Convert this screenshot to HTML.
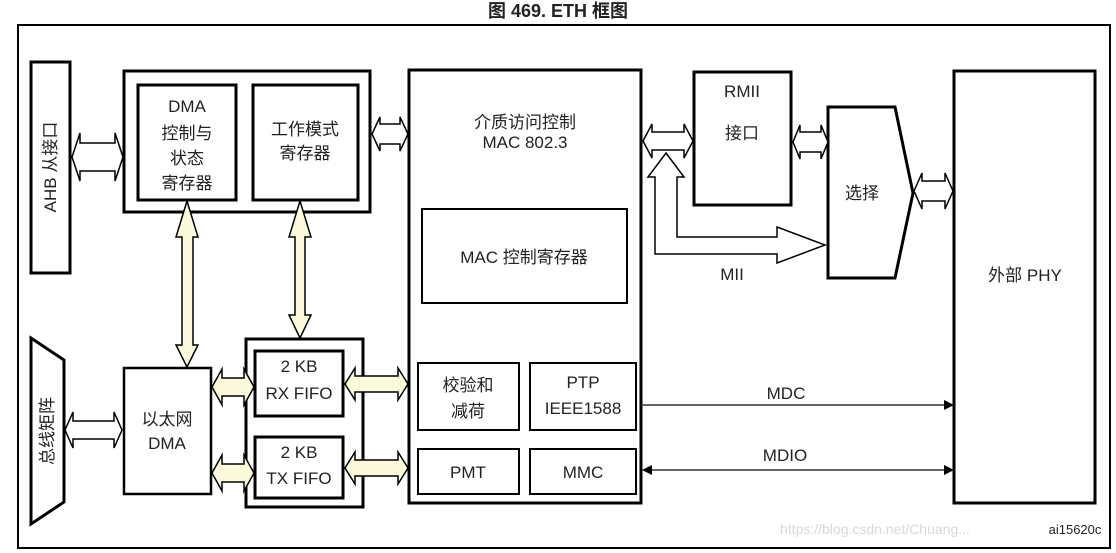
<!DOCTYPE html>
<html><head><meta charset="utf-8"><style>
html,body{margin:0;padding:0;background:#fff;width:1116px;height:553px;overflow:hidden}
svg text{font-family:"Liberation Sans","Noto Sans CJK SC",sans-serif;fill:#222}
</style></head><body>
<svg width="1116" height="553" viewBox="0 0 1116 553" xmlns="http://www.w3.org/2000/svg">
<text x="558" y="17" font-size="18" font-weight="bold" text-anchor="middle">图 469. ETH 框图</text>
<rect x="18" y="25" width="1092" height="523" fill="none" stroke="#000" stroke-width="2"/>
<g fill="none" stroke="#000" stroke-width="3">
<rect x="31" y="62" width="39" height="211"/>
<rect x="124" y="71" width="246" height="141"/>
<rect x="138" y="85" width="98" height="115"/>
<rect x="253" y="85" width="105" height="115"/>
<rect x="409" y="70" width="232" height="433"/>
<rect x="694" y="72" width="97" height="133"/>
<rect x="954" y="71" width="141" height="432"/>
<rect x="246" y="339" width="117" height="168"/>
<rect x="255" y="351" width="88" height="65"/>
<rect x="255" y="437" width="88" height="61"/>
<polygon points="828,107 895,107 913,193 895,278 828,278"/>
<polygon points="31,338 64,360 64,502 31,524"/>
</g>
<g fill="none" stroke="#000" stroke-width="2.5">
<rect x="124" y="368" width="87" height="126"/>
</g>
<g fill="none" stroke="#000" stroke-width="2">
<rect x="422" y="209" width="205" height="94"/>
<rect x="418" y="363" width="101" height="67"/>
<rect x="530" y="363" width="106" height="67"/>
<rect x="418" y="449" width="101" height="45"/>
<rect x="530" y="449" width="106" height="45"/>
</g>
<g fill="#fff" stroke="#000" stroke-width="1.5">
<polygon points="72,157 80,133 80,143 115,143 115,133 123,157 115,181 115,171 80,171 80,181"/>
<polygon points="372,134 380,117 380,124 400,124 400,117 408,134 400,151 400,144 380,144 380,151"/>
<polygon points="666,153 684,177 677,177 677,237 777,237 777,227 825,245 777,263 777,254 655,254 655,177 648,177"/>
<polygon points="643,141 652,124 652,132 684,132 684,124 693,141 684,158 684,150 652,150 652,158"/>
<polygon points="793,142 800,125 800,132 821,132 821,125 828,142 821,159 821,152 800,152 800,159"/>
<polygon points="914,191 922,173 922,181 945,181 945,173 953,191 945,209 945,201 922,201 922,209"/>
<polygon points="65,430 73,412 73,421 114,421 114,412 122,430 114,448 114,439 73,439 73,448"/>
</g>
<g fill="#fbfbdc" stroke="#000" stroke-width="1.5">
<polygon points="187,201 198,237 193,237 193,345 198,345 187,367 176,345 182,345 182,237 176,237"/>
<polygon points="300,201 311,237 305,237 305,315 311,315 300,338 289,315 295,315 295,237 289,237"/>
<polygon points="212,387 222,369 222,378 244,378 244,369 254,387 244,405 244,396 222,396 222,405"/>
<polygon points="212,473 222,455 222,464 244,464 244,455 254,473 244,491 244,482 222,482 222,491"/>
<polygon points="345,384 355,368 355,376 398,376 398,368 408,384 398,400 398,392 355,392 355,400"/>
<polygon points="345,468 355,452 355,460 398,460 398,452 408,468 398,484 398,476 355,476 355,484"/>
</g>
<g stroke="#333" stroke-width="1.5">
<line x1="641" y1="405" x2="945" y2="405"/>
<line x1="650" y1="470" x2="945" y2="470"/>
</g>
<polygon points="954,405 944,400 944,410" fill="#000"/>
<polygon points="954,470 944,465 944,475" fill="#000"/>
<polygon points="642,470 652,465 652,475" fill="#000"/>
<g font-size="17" text-anchor="middle">
<text x="56" y="167" transform="rotate(-90 56 167)">AHB 从接口</text>
<text x="187" y="112">DMA</text>
<text x="187" y="139">控制与</text>
<text x="187" y="164">状态</text>
<text x="187" y="189">寄存器</text>
<text x="305" y="135">工作模式</text>
<text x="305" y="159">寄存器</text>
<text x="525" y="128">介质访问控制</text>
<text x="525" y="148">MAC 802.3</text>
<text x="524" y="263">MAC 控制寄存器</text>
<text x="742" y="97">RMII</text>
<text x="742" y="139">接口</text>
<text x="862" y="199">选择</text>
<text x="732" y="280">MII</text>
<text x="1025" y="281">外部 PHY</text>
<text x="53" y="431" transform="rotate(-90 53 431)">总线矩阵</text>
<text x="167" y="425">以太网</text>
<text x="167" y="449">DMA</text>
<text x="299" y="372">2 KB</text>
<text x="299" y="399">RX FIFO</text>
<text x="299" y="458">2 KB</text>
<text x="299" y="484">TX FIFO</text>
<text x="468" y="391">校验和</text>
<text x="468" y="417">减荷</text>
<text x="583" y="388">PTP</text>
<text x="583" y="414">IEEE1588</text>
<text x="468" y="478">PMT</text>
<text x="583" y="478">MMC</text>
<text x="786" y="399">MDC</text>
<text x="785" y="461">MDIO</text>
</g>
<text x="780" y="534" font-size="14" style="fill:#d8d8d8">https://blog.csdn.net/Chuang...</text>
<text x="1075" y="534" font-size="13" text-anchor="middle">ai15620c</text>
</svg>
</body></html>
